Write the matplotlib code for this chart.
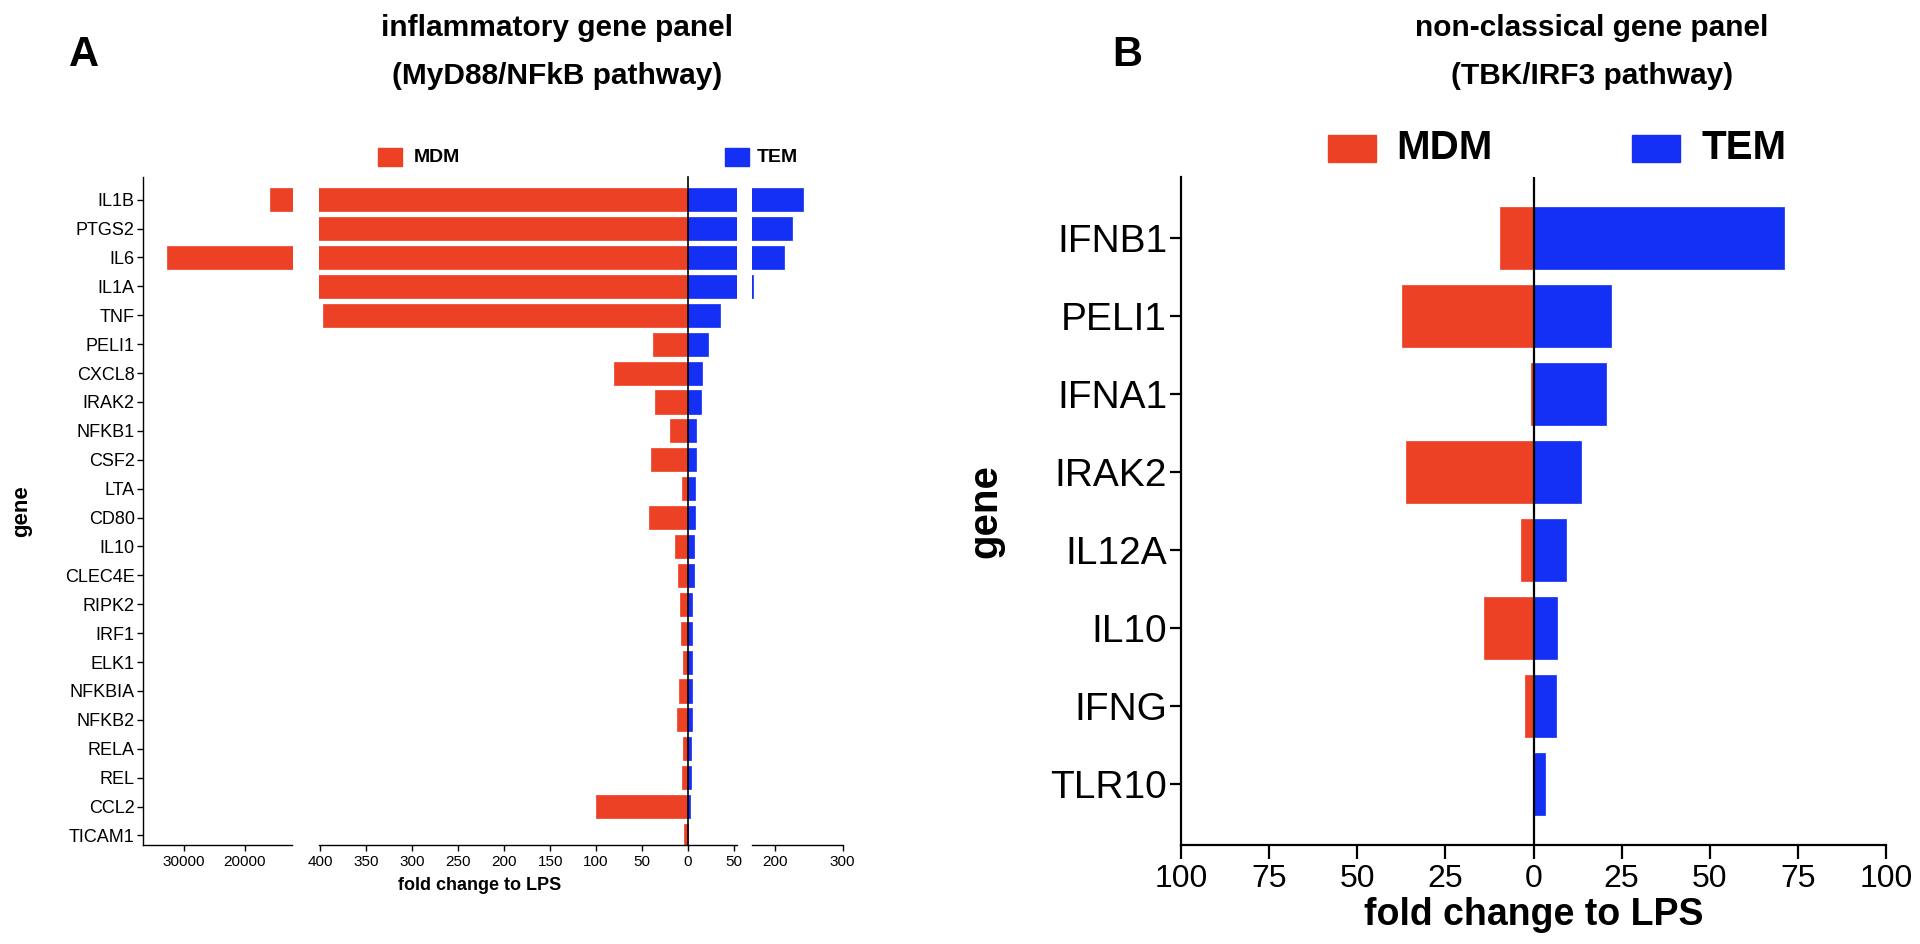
import numpy as np
import matplotlib
matplotlib.use('Agg')
import matplotlib.pyplot as plt
from matplotlib.patches import Rectangle

# panel A: inflammatory genes (MyD88/NFkB)
left_genes = ['IL1B', 'PTGS2', 'IL6', 'IL1A', 'TNF', 'PELI1', 'CXCL8', 'IRAK2',
              'NFKB1', 'CSF2', 'LTA', 'CD80', 'IL10', 'CLEC4E', 'RIPK2', 'IRF1',
              'ELK1', 'NFKBIA', 'NFKB2', 'RELA', 'REL', 'CCL2', 'TICAM1']
left_mdm = [15900, 2000, 32700, 1000, 397, 38, 81, 36, 20, 40, 6, 42, 14.5,
            11, 9, 8, 5, 10, 12, 5, 6, 100, 4]
left_tem = [242, 225, 214, 167, 35, 22, 15.5, 14, 9, 8.7, 7.6, 7.3, 6.5,
            6.2, 4.5, 4.5, 4, 4, 4, 3, 2.8, 2.5, 0.5]

# panel B: non-classical genes (TBK/IRF3)
right_genes = ['IFNB1', 'PELI1', 'IFNA1', 'IRAK2', 'IL12A', 'IL10', 'IFNG', 'TLR10']
right_mdm = [9.4, 37.4, 0.7, 36.2, 3.5, 14, 2.3, 0]
right_tem = [71, 22, 20.6, 13.5, 9.1, 6.7, 6.3, 3.3]

# broken x axis of panel A: (x range in px, axis limits, ticks, series)
left_ticks_main = [400, 350, 300, 250, 200, 150, 100, 50, 0]
left_segments = [
    ((143, 292.5), (36650, 12240), [30000, 20000], 'MDM'),
    ((318.6, 688), (402, 0), left_ticks_main, 'MDM'),
    ((688, 736.7), (0, 53), [50], 'TEM'),
    ((752, 842.5), (166, 300), [200, 300], 'TEM'),
]
right_ticks = [-100, -75, -50, -25, 0, 25, 50, 75, 100]

RED = '#EC4125'
BLUE = '#1330F4'

plt.rcParams['font.family'] = ['Liberation Sans', 'DejaVu Sans']

W, H = 1920, 944
fig = plt.figure(figsize=(W / 100, H / 100), dpi=100)


def px_axes(x0, x1, y0, y1):
    return fig.add_axes([x0 / W, 1 - y1 / H, (x1 - x0) / W, (y1 - y0) / H])


# ---- panel A ----
y_left = np.arange(len(left_genes))
for i, ((x0, x1), lims, ticks, series) in enumerate(left_segments):
    ax = px_axes(x0, x1, 177, 845)
    vals = left_mdm if series == 'MDM' else left_tem
    col = RED if series == 'MDM' else BLUE
    ax.barh(y_left, vals, height=0.8, color=col, edgecolor=col, linewidth=0.5)
    ax.set_xlim(*lims)
    ax.set_ylim(len(left_genes) - 1 + 0.33, -0.785)
    for s in ['top', 'right', 'left']:
        ax.spines[s].set_visible(False)
    ax.spines['bottom'].set_linewidth(1.0)
    ax.set_xticks(ticks)
    ax.tick_params(axis='x', length=4, width=1, labelsize=11, pad=3)
    if i == 0:
        ax.spines['left'].set_visible(True)
        ax.spines['left'].set_linewidth(1.0)
        ax.set_yticks(y_left)
        ax.set_yticklabels(left_genes)
        ax.tick_params(axis='y', length=4, width=1, labelsize=13, pad=2)
    else:
        ax.set_yticks([])
    if i == 2:
        ax.spines['left'].set_visible(True)
        ax.spines['left'].set_linewidth(1.2)

fig.text(480 / W, 1 - 885 / H, 'fold change to LPS', ha='center', va='center',
         fontsize=13, fontweight='bold')
fig.text(22 / W, 1 - 511 / H, 'gene', ha='center', va='center', rotation=90,
         fontsize=16, fontweight='bold')

# ---- panel B ----
y_right = np.arange(len(right_genes))
axr = px_axes(1181, 1886, 177, 845)
axr.barh(y_right, [-v for v in right_mdm], height=0.79, color=RED,
         edgecolor=RED, linewidth=0.5)
axr.barh(y_right, right_tem, height=0.79, color=BLUE, edgecolor=BLUE,
         linewidth=0.5)
axr.axvline(0, color='black', linewidth=1.6)
axr.set_xlim(-100, 100)
axr.set_ylim(len(right_genes) - 1 + 0.78, -0.785)
axr.set_xticks(right_ticks)
axr.set_xticklabels([str(abs(t)) for t in right_ticks])
axr.set_yticks(y_right)
axr.set_yticklabels(right_genes)
for s in ['top', 'right']:
    axr.spines[s].set_visible(False)
for s in ['left', 'bottom']:
    axr.spines[s].set_linewidth(1.6)
axr.tick_params(axis='x', length=10, width=1.6, labelsize=23, pad=4)
axr.tick_params(axis='y', length=8, width=1.6, labelsize=28, pad=2)
axr.set_xlabel('fold change to LPS', fontsize=27, fontweight='bold', labelpad=2)
fig.text(985 / W, 1 - 511 / H, 'gene', ha='center', va='center', rotation=90,
         fontsize=29, fontweight='bold')

# ---- legends ----
def legend_entry(x_sq, y_c, w, h, color, label, x_txt, size):
    fig.add_artist(Rectangle((x_sq / W, 1 - (y_c + h / 2) / H), w / W, h / H,
                             transform=fig.transFigure, color=color))
    fig.text(x_txt / W, 1 - y_c / H, label, ha='left', va='center',
             fontsize=size, fontweight='bold')

legend_entry(378, 157, 24, 18, RED, 'MDM', 414, 14)
legend_entry(725, 157, 24, 18, BLUE, 'TEM', 757, 14)
legend_entry(1328, 148, 48, 27, RED, 'MDM', 1396, 29)
legend_entry(1632, 148, 48, 27, BLUE, 'TEM', 1702, 29)

# ---- titles ----
fig.text(557 / W, 1 - 14 / H, 'inflammatory gene panel\n(MyD88/NFkB pathway)',
         ha='center', va='top', fontsize=21.5, fontweight='bold',
         linespacing=1.9)
fig.text(1592 / W, 1 - 14 / H, 'non-classical gene panel\n(TBK/IRF3 pathway)',
         ha='center', va='top', fontsize=21.5, fontweight='bold',
         linespacing=1.9)
fig.text(84 / W, 1 - 55 / H, 'A', ha='center', va='center', fontsize=30,
         fontweight='bold')
fig.text(1127 / W, 1 - 55 / H, 'B', ha='center', va='center', fontsize=30,
         fontweight='bold')

fig.savefig('out.png', dpi=100)
